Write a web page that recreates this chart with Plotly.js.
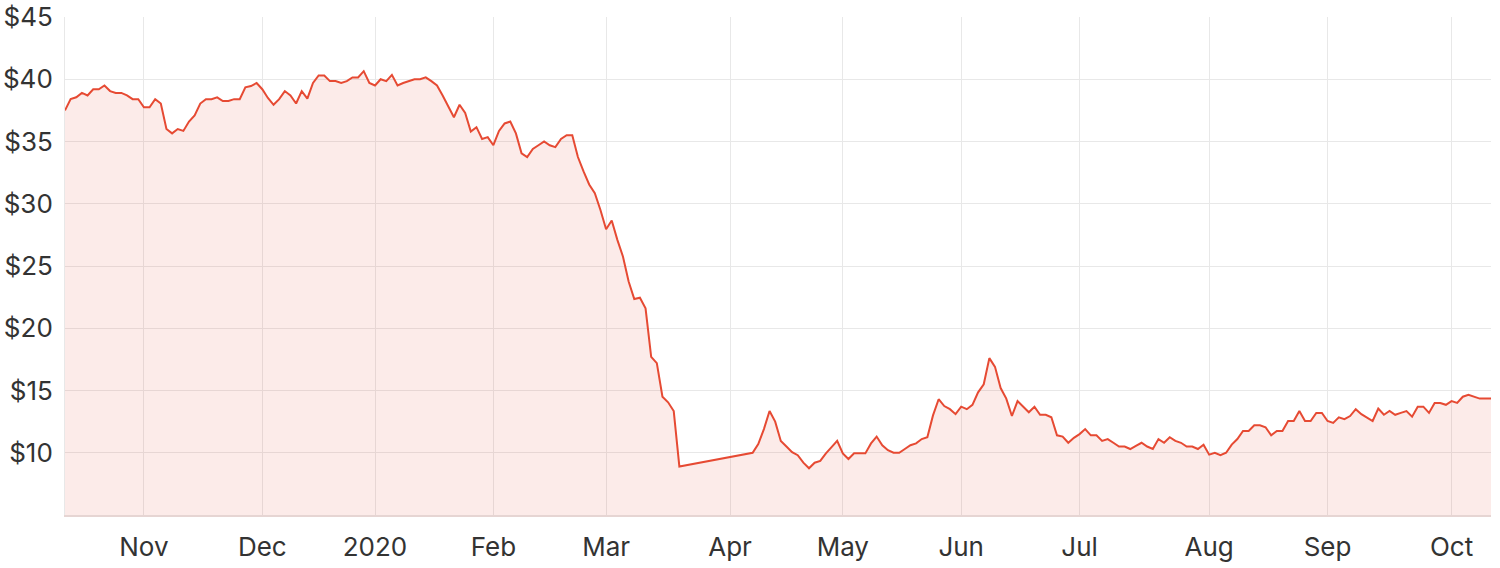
<!DOCTYPE html>
<html>
<head>
<meta charset="utf-8">
<script src="https://cdn.plot.ly/plotly-3.0.1.min.js"></script>
<style>
  html, body { margin: 0; padding: 0; background: #ffffff; }
  #chart { width: 1500px; height: 568px; }
</style>
</head>
<body>
<div id="chart"></div>
<script>
// ASX market holidays in the period (no trading)
const holidays = ["2019-12-25", "2019-12-26", "2020-01-01", "2020-01-27",
                  "2020-04-10", "2020-04-13", "2020-06-08"];
const firstDay = "2019-10-14";
const lastDay = "2020-10-12";

// Closing prices, one per trading day from 14 Oct 2019 to 12 Oct 2020 (null = trading halt)
const prices = [
  37.5, 38.4, 38.55, 38.9, 38.7, 39.2, 39.2, 39.5, 39.05, 38.9,
  38.9, 38.7, 38.4, 38.4, 37.75, 37.75, 38.4, 38.05, 36.0, 35.65,
  36.0, 35.85, 36.6, 37.1, 38.05, 38.4, 38.4, 38.55, 38.25, 38.25,
  38.4, 38.4, 39.35, 39.45, 39.7, 39.2, 38.5, 37.95, 38.4, 39.05,
  38.7, 38.05, 39.05, 38.45, 39.7, 40.3, 40.3, 39.85, 39.85, 39.7,
  39.85, 40.15, 40.15, 40.65, 39.7, 39.5, 40.0, 39.85, 40.35, 39.5,
  39.7, 39.85, 40.0, 40.0, 40.15, 39.85, 39.5, 38.7, 37.85, 36.95,
  37.95, 37.3, 35.8, 36.15, 35.2, 35.35, 34.7, 35.85, 36.45, 36.6,
  35.65, 34.05, 33.75, 34.4, 34.7, 35.0, 34.7, 34.55, 35.2, 35.5,
  35.5, 33.75, 32.6, 31.55, 30.85, 29.5, 27.95, 28.65, 27.1, 25.75,
  23.75, 22.35, 22.45, 21.6, 17.7, 17.2, 14.5, 14.05, 13.35, 8.9,
  null, null, null, null, null, null, null, null, null, null,
  null, null, 10.0, 10.7, 11.9, 13.35, 12.5, 10.95, 10.5, 10.05,
  9.8, 9.2, 8.75, 9.2, 9.35, 9.95, 10.45, 10.95, 9.95, 9.5,
  9.95, 9.95, 9.95, 10.75, 11.3, 10.6, 10.2, 10.0, 10.0, 10.3,
  10.6, 10.75, 11.1, 11.25, 13.0, 14.3, 13.75, 13.5, 13.1, 13.7,
  13.5, 13.85, 14.85, 15.5, 17.6, 16.9, 15.2, 14.35, 12.95, 14.15,
  13.7, 13.25, 13.7, 13.05, 13.05, 12.85, 11.4, 11.3, 10.8, 11.2,
  11.5, 11.9, 11.4, 11.4, 10.95, 11.1, 10.8, 10.5, 10.5, 10.3,
  10.55, 10.8, 10.5, 10.3, 11.1, 10.8, 11.25, 10.95, 10.8, 10.5,
  10.5, 10.3, 10.65, 9.85, 10.0, 9.8, 10.0, 10.65, 11.1, 11.75,
  11.75, 12.2, 12.2, 12.05, 11.4, 11.75, 11.75, 12.55, 12.55, 13.35,
  12.55, 12.55, 13.2, 13.2, 12.55, 12.4, 12.85, 12.7, 12.95, 13.5,
  13.1, 12.8, 12.55, 13.55, 13.05, 13.35, 13.05, 13.2, 13.35, 12.9,
  13.7, 13.7, 13.2, 14.0, 14.0, 13.85, 14.15, 14.0, 14.5, 14.65,
  14.5, 14.35, 14.35, 14.35
];

const tickDates = ["2019-11-01", "2019-12-02", "2020-01-02", "2020-02-03", "2020-03-02", "2020-04-01",
                   "2020-05-01", "2020-06-01", "2020-07-01", "2020-08-03", "2020-09-01", "2020-10-01"];
const tickLabels = ["Nov", "Dec", "2020", "Feb", "Mar", "Apr", "May", "Jun", "Jul", "Aug", "Sep", "Oct"];
const priceTicks = [10, 15, 20, 25, 30, 35, 40, 45];
const priceLabels = ["$10", "$15", "$20", "$25", "$30", "$35", "$40", "$45"];

// Trading-day calendar (weekdays that are not holidays)
function tradingDays(start, end, skip) {
  const out = [];
  const d = new Date(start + "T00:00:00Z");
  const e = new Date(end + "T00:00:00Z");
  while (d <= e) {
    const s = d.toISOString().slice(0, 10);
    const wd = d.getUTCDay();
    if (wd !== 0 && wd !== 6 && skip.indexOf(s) < 0) out.push(s);
    d.setUTCDate(d.getUTCDate() + 1);
  }
  return out;
}
const dates = tradingDays(firstDay, lastDay, holidays);

const font = "Inter, 'DejaVu Sans', sans-serif";

const trace = {
  x: dates,
  y: prices,
  type: "scatter",
  mode: "lines",
  connectgaps: true,
  line: { color: "#e64a33", width: 2 },
  fill: "tozeroy",
  fillcolor: "rgba(232,76,52,0.11)",
  hoverinfo: "x+y"
};

const layout = {
  width: 1500,
  height: 568,
  margin: { l: 65, r: 9, t: 17, b: 53 },
  paper_bgcolor: "#ffffff",
  plot_bgcolor: "#ffffff",
  showlegend: false,
  font: { family: font, color: "#333333", size: 26 },
  xaxis: {
    type: "date",
    range: [firstDay, lastDay],
    rangebreaks: [{ bounds: ["sat", "mon"] }, { values: holidays }],
    tickmode: "array",
    tickvals: tickDates,
    ticktext: tickLabels,
    showgrid: true,
    gridcolor: "#e8e8e8",
    gridwidth: 1,
    showline: true,
    linecolor: "#e6d5d3",
    linewidth: 2,
    ticks: "",
    ticklabelstandoff: 8,
    zeroline: false,
    tickfont: { family: font, size: 26, color: "#333333" },
    fixedrange: true
  },
  yaxis: {
    range: [5, 45],
    tickmode: "array",
    tickvals: priceTicks,
    ticktext: priceLabels,
    showgrid: true,
    gridcolor: "#e8e8e8",
    gridwidth: 1,
    showline: true,
    linecolor: "#e8e8e8",
    linewidth: 1,
    ticks: "",
    ticklabelstandoff: 6,
    zeroline: false,
    tickfont: { family: font, size: 26, color: "#333333" },
    fixedrange: true
  }
};

Plotly.newPlot("chart", [trace], layout, { displayModeBar: false, staticPlot: true });
</script>
</body>
</html>
